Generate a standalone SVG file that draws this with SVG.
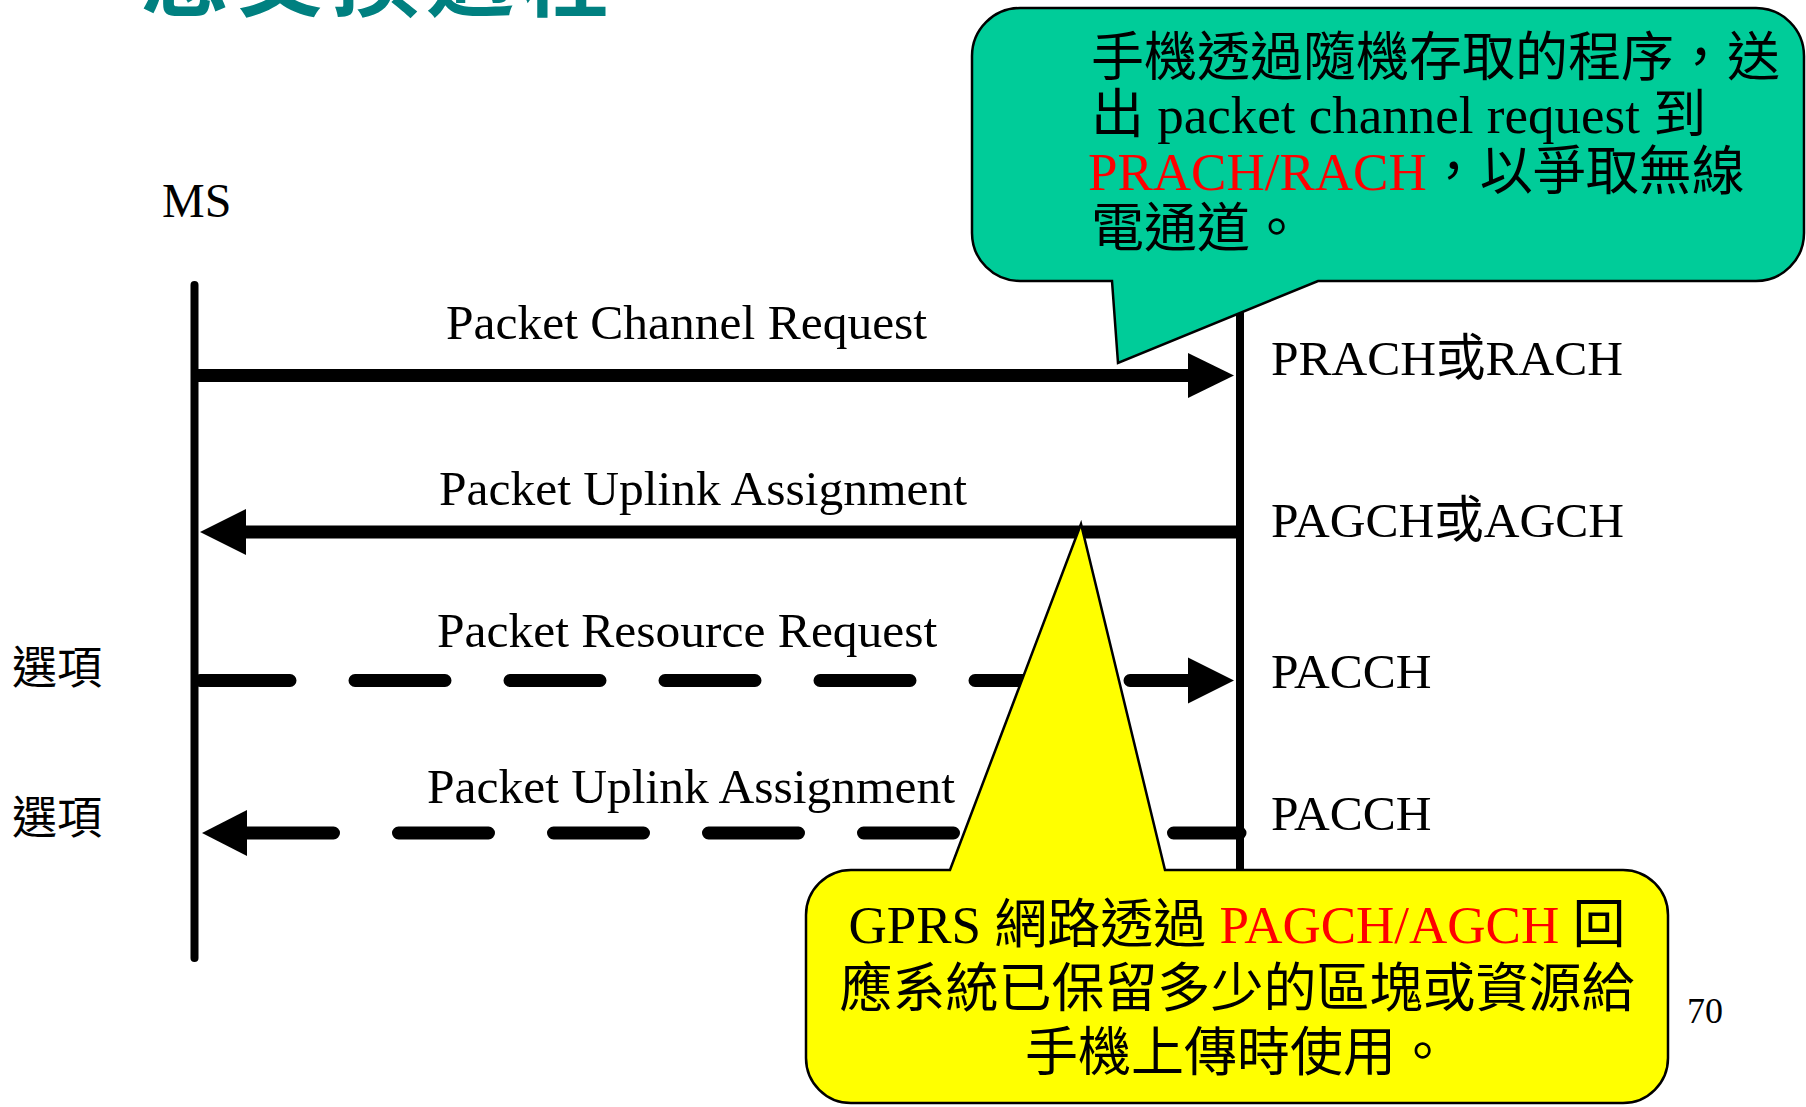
<svg xmlns="http://www.w3.org/2000/svg" width="1806" height="1107" viewBox="0 0 1806 1107">
<style>
.t{font-family:"Liberation Serif","Noto Sans CJK TC",serif;fill:#000}
.lbl{font-size:49.5px}
.cj{font-family:"Noto Sans CJK TC","Liberation Serif",serif}
.co{font-size:53px}
.red{fill:#FF0000}
.life{stroke:#000;stroke-width:8;stroke-linecap:round;fill:none}
.msg{stroke:#000;stroke-width:13;fill:none}
.dash{stroke-dasharray:90 65;stroke-linecap:round}
.head{fill:#000}
.callout{stroke:#000;stroke-width:2.5}
</style>
<rect width="1806" height="1107" fill="#FFFFFF"/>
<text x="141" y="9" font-family="Noto Sans CJK TC, sans-serif" font-weight="bold" font-size="88" letter-spacing="7" fill="#008080">息交換過程</text>
<g id="ms">
<text class="t" x="162" y="217" font-size="48">MS</text>
<line class="life" x1="194.5" y1="285" x2="194.5" y2="958"/>
</g>
<g id="network">
<line class="life" x1="1240" y1="285" x2="1240" y2="958"/>
</g>
<g id="connectors">
<line class="msg" x1="194" y1="375.5" x2="1192" y2="375.5"/>
<polygon class="head" points="1188,353 1234,375.5 1188,398"/>
<line class="msg" x1="244" y1="532" x2="1240" y2="532"/>
<polygon class="head" points="246,509 200,532 246,555"/>
<path class="msg dash" d="M200 680.5 H1190"/>
<polygon class="head" points="1188,657.5 1234,680.5 1188,703.5"/>
<path class="msg dash" d="M1240 833 H246" stroke-dashoffset="23.5"/>
<polygon class="head" points="247,810 202,833 247,856"/>
</g>
<g id="labels">
<text class="t lbl" x="446" y="339">Packet Channel Request</text>
<text class="t lbl" x="439" y="505">Packet Uplink Assignment</text>
<text class="t lbl" x="437" y="647">Packet Resource Request</text>
<text class="t lbl" x="427" y="803">Packet Uplink Assignment</text>
<text class="t cj" x="12" y="684" font-size="45">選項</text>
<text class="t cj" x="12" y="834" font-size="45">選項</text>
<text class="t" x="1271" y="375" font-size="49.5">PRACH或RACH</text>
<text class="t" x="1271" y="537" font-size="49.5">PAGCH或AGCH</text>
<text class="t" x="1271" y="688" font-size="49.5">PACCH</text>
<text class="t" x="1271" y="830" font-size="49.5">PACCH</text>
<text class="t" x="1687" y="1023" font-size="36">70</text>
</g>
<g id="callout-ms">
<path class="callout" fill="#00CC99" d="M1020 8 H1756 A48 48 0 0 1 1804 56 V233 A48 48 0 0 1 1756 281 H1318 L1118 363 L1112 281 H1020 A48 48 0 0 1 972 233 V56 A48 48 0 0 1 1020 8 Z"/>
<text class="t co" x="1091" y="76">手機透過隨機存取的程序，送</text>
<text class="t co" x="1091" y="133">出 packet channel request 到</text>
<text class="t co" x="1088" y="190"><tspan class="red">PRACH/RACH</tspan>，以爭取無線</text>
<text class="t co" x="1091" y="247">電通道。</text>
</g>
<g id="callout-network">
<path class="callout" fill="#FFFF00" d="M851 870 H950 L1081 524 L1165 870 H1623 A45 45 0 0 1 1668 915 V1058 A45 45 0 0 1 1623 1103 H851 A45 45 0 0 1 806 1058 V915 A45 45 0 0 1 851 870 Z"/>
<text class="t co" x="1237" y="943" text-anchor="middle">GPRS 網路透過 <tspan class="red">PAGCH/AGCH</tspan> 回</text>
<text class="t co" x="1237" y="1007" text-anchor="middle">應系統已保留多少的區塊或資源給</text>
<text class="t co" x="1237" y="1071" text-anchor="middle">手機上傳時使用。</text>
</g>
</svg>
